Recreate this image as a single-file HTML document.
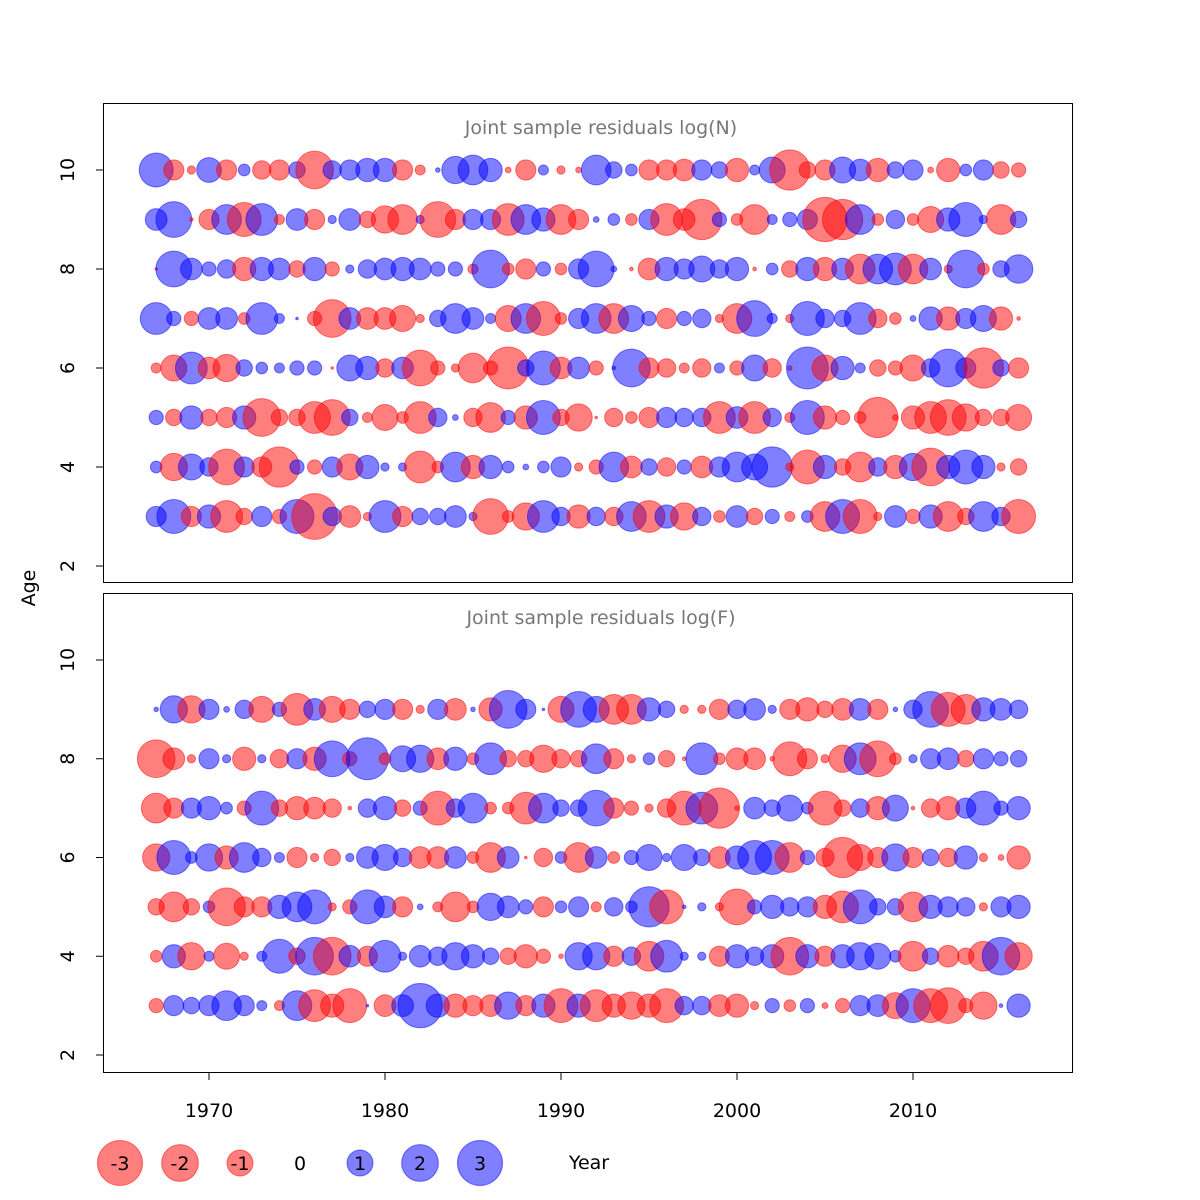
<!DOCTYPE html>
<html><head><meta charset="utf-8"><style>
html,body{margin:0;padding:0;background:#fff;}
svg{display:block;font-family:"DejaVu Sans","Liberation Sans",sans-serif;}
</style></head><body>
<svg id="chart" width="1200" height="1200" viewBox="0 0 1200 1200" xmlns="http://www.w3.org/2000/svg">
<rect x="0" y="0" width="1200" height="1200" fill="#fff"/>
<rect x="103.5" y="103.5" width="969" height="479" fill="none" stroke="#000" stroke-width="1"/>
<rect x="103.5" y="593.5" width="969" height="479" fill="none" stroke="#000" stroke-width="1"/>
<text x="601" y="134" font-size="19" fill="#777" text-anchor="middle">Joint sample residuals log(N)</text>
<text x="601" y="624" font-size="19" fill="#777" text-anchor="middle">Joint sample residuals log(F)</text>
<text transform="translate(35,588) rotate(-90)" font-size="19" text-anchor="middle">Age</text>
<text x="589" y="1169" font-size="19" text-anchor="middle">Year</text>
<g id="axes"></g>
<g id="bubbles"></g>
<g id="legend"></g>
</svg>
<script>
const years = [];
for (let yr = 1967; yr <= 2016; yr++) years.push(yr);
const agesN = [3,4,5,6,7,8,9,10];
const agesF = [3,4,5,6,7,8,9];
const yTicks = [2,4,6,8,10];
const xTicks = [1970,1980,1990,2000,2010];
const legendValues = [-3,-2,-1,0,1,2,3];

const n10 = [1.7,-0.6,-0.1,0.9,-0.6,0.2,-0.5,-0.6,0.4,-2.1, 0.5,0.6,0.8,0.8,-0.6,-0.15,0.03,1.1,1.3,0.8, -0.05,-0.6,0.15,-0.1,-0.05,1.3,0.4,0.2,-0.6,-0.6, -0.7,0.6,0.4,-0.8,0.15,1,-2.4,-0.4,-0.6,1, 0.7,-0.8,0.4,0.6,-0.05,-0.8,0.2,0.6,-0.4,-0.3];
const n9 = [0.7,1.9,-0.02,-0.6,1.3,-1.7,1.5,-0.15,0.7,-0.6, 0.1,0.7,-0.4,-1.1,-1.3,0.1,-1.9,-0.6,0.6,0.6, -1.5,1.3,0.8,-1.3,-0.6,0.05,0.2,-0.2,0.6,-1.5, -0.7,-2.4,0.3,-0.2,-1.3,0.15,0.3,0.6,-2.9,-2.4, 1.3,-0.2,0.5,-0.2,-1,0.8,1.7,0.1,-1.3,0.4];
const n8 = [-0.01,1.9,0.7,0.3,0.5,-0.8,0.8,0.7,-0.4,0.8, -0.3,0.1,0.5,0.7,0.8,0.7,0.3,0.3,-0.15,2.1, -0.2,-0.6,0.3,-0.2,0.6,1.9,0.05,-0.02,-0.7,0.8, 0.6,1,0.5,0.8,-0.02,0.2,-0.4,0.8,-0.8,0.7, -1.3,1.3,1.5,-1.3,0.7,-0.1,2.1,-0.2,0.4,1.2];
const n7 = [1.5,0.3,-0.3,0.7,0.7,-0.2,1.5,0.15,0.01,-0.3, -2.1,0.7,-0.7,-0.7,-1,-0.1,0.4,1.3,0.7,0.15, -1,1.3,-1.7,-0.2,0.6,1.3,-1.3,1,0.3,-0.6, 0.3,0.5,-0.1,-1.3,1.9,0.15,-0.1,1.7,0.5,0.4, 1.5,-0.5,-0.2,0.05,0.8,-0.8,0.6,1,-0.8,-0.02];
const n6 = [-0.15,-1,1.5,-0.7,-1.1,0.4,0.2,0.15,0.3,0.3, -0.01,1,0.8,-0.5,0.7,-1.9,-0.3,-0.1,-1.3,-0.3, -2.6,0.4,1.7,-0.7,0.7,-0.3,0.02,2.1,-0.6,-0.5, -0.15,-0.5,0.15,-0.3,1,-0.5,-0.03,2.6,-1,0.8, 0.15,-0.4,-0.3,-1,0.5,2.1,0.6,-2.4,0.4,-0.6];
const n5 = [0.3,-0.4,0.8,-0.4,-0.6,0.8,-2.1,-0.4,-0.4,-1.5, -1.9,0.4,-0.15,-1,-0.2,-1.5,0.5,0.05,-0.5,-1.3, 0.3,-0.8,1.7,-0.4,-1.1,-0.01,-0.5,-0.2,-0.6,0.6, 0.5,0.5,-1.5,0.7,-1.5,0.5,-0.15,1.7,-0.8,-0.3, -0.2,-2.4,-0.05,-0.8,-1.5,-1.9,-1.1,-0.4,-0.4,-1];
const n4 = [0.2,-1.1,1,0.5,-1.9,0.6,-0.6,-2.4,0.3,-0.3, 0.6,-1,0.8,0.1,0.1,-1.5,-0.2,1.3,-0.8,0.8, 0.2,0.05,0.2,0.6,-0.1,-0.3,1.3,-0.7,0.4,-0.5, 0.3,-0.7,0.6,1.3,1,2.4,-0.1,-1.7,0.8,-0.4, -1.3,0.5,-0.8,1.1,-2.1,0.8,1.7,0.8,-0.1,-0.4];
const n3 = [0.6,1.7,-0.6,0.8,-1.5,-0.4,0.6,-0.3,1.7,-3.1, 0.5,-0.7,-0.1,1.5,-0.6,0.4,0.4,0.7,0.1,-1.9, -0.2,-1.1,1.5,0.5,-0.8,0.5,-0.5,1.3,-1.5,0.8, -1.1,0.5,-0.2,0.7,-0.4,0.3,-0.15,0.2,-1.3,1.7, -1.7,-0.1,0.7,-0.3,0.8,-1.3,-0.4,1.3,0.5,-1.7];

const f9 = [0.03,1.1,-1.1,0.6,0.05,0.5,-1,0.3,-1.5,0.7, -1,-0.6,0.4,0.6,-0.6,-0.1,0.6,-0.7,0.03,-0.8, 2.1,0.6,0.01,-1,1.9,1,-1.3,-1.3,0.8,0.4, -0.1,-0.1,-0.6,0.5,0.7,0.1,-0.6,-0.8,-0.4,-0.7, 0.7,-0.6,0.03,0.5,1.9,-1.7,-1.3,0.8,0.7,0.5];
const f8 = [-2.1,-0.7,-0.1,0.6,0.1,-0.8,0.1,-0.5,0.6,-0.8, 1.9,-0.3,2.6,-0.2,1,1.1,-0.7,0.8,-0.2,1.5, -0.4,-0.4,-1.1,-0.5,-0.4,1.3,-0.6,-0.1,0.2,-0.4, -0.02,1.5,-0.2,-0.7,-0.7,-0.03,-1.7,-0.6,-0.1,-1.1, 1.5,-1.9,-0.2,0.1,0.6,0.7,-0.4,0.6,0.3,0.4];
const f7 = [-1.3,-0.6,0.6,0.8,0.2,-0.3,1.7,-0.4,-0.8,-0.7, -0.5,-0.02,0.5,0.8,-0.4,0.3,-1.7,0.5,1.3,-0.2, -0.2,-1.5,1.3,0.4,0.4,1.9,-0.6,-0.3,-0.1,-0.5, -1.7,1.5,-2.4,-0.03,0.7,0.4,1,0.2,-1.7,-0.4, 0.5,-0.8,1,-0.02,-0.5,-0.8,0.6,1.7,0.3,0.8];
const f6 = [-1.1,1.7,0.2,1.1,-0.8,1.3,0.5,0.15,-0.6,-0.1, -0.4,0.1,0.7,1,0.5,-0.7,-0.7,0.7,-0.2,-1.3, 0.7,-0.01,-0.5,0.2,-1.3,0.7,-0.2,0.3,1,0.1, 1,0.4,-0.7,0.8,1.7,1.7,-1.3,0.3,-0.5,-2.4, -1,-0.6,1.1,-0.6,0.4,-0.5,0.8,-0.1,-0.05,-0.8];
const f5 = [-0.4,-1.3,-0.4,0.2,-2.1,-0.6,-0.6,0.8,1.3,1.7, -0.1,-0.3,1.7,0.7,-0.6,0.05,-0.15,-1.3,-0.2,1.1, 0.7,0.3,-0.6,0.2,0.6,-0.15,0.5,0.2,2.4,-1.7, 0.02,0.1,-0.1,-1.9,0.3,0.8,0.5,0.6,-0.8,-1.5, 1.7,0.4,0.4,-1.3,0.8,0.6,0.5,-0.1,0.6,0.8];
const f4 = [-0.2,0.8,-1.1,0.15,-1,-0.1,0.15,1.7,-0.4,2.1, -2.1,0.7,-0.6,1.5,0.1,0.7,0.5,1.1,0.8,0.4, -0.4,-0.8,-0.3,-0.03,1.1,1.1,-0.6,0.5,-1.3,1.5, 0.1,0.1,-0.6,0.8,0.5,0.8,-2.1,0.8,-0.6,0.8, 1.1,1,0.2,-1.3,0.4,-0.7,-0.4,-1.3,2.1,-1.1];
const f3 = [-0.3,0.6,0.4,0.6,1.3,0.6,0.15,-0.15,1.3,-1.5, -0.8,-1.7,0.01,-0.7,0.7,2.9,0.8,-0.8,-0.6,-0.7, 1.1,-0.6,0.8,-1.7,0.8,-1.5,-0.8,-1.1,-0.8,-1.7, 0.5,0.5,-0.7,-0.8,-0.1,0.3,-0.2,0.3,-0.05,-0.3, 0.6,0.7,-1,1.7,-1.7,-1.9,-0.3,-1.1,0.02,0.8];

const seriesN = [n3,n4,n5,n6,n7,n8,n9,n10];
const seriesF = [f3,f4,f5,f6,f7,f8,f9];

const NS = 'http://www.w3.org/2000/svg';
function xScale(yr){ return 209 + (yr - 1970) * 17.6; }
function yScaleN(a){ return 170 + (10 - a) * 49.5; }
function yScaleF(a){ return 660 + (10 - a) * 49.375; }
function rScale(v){ return 13 * Math.sqrt(Math.abs(v)); }
function colorOf(v){ return v < 0 ? 'rgba(255,0,0,0.5)' : 'rgba(0,0,255,0.5)'; }
function mk(tag, parent){ const e = document.createElementNS(NS, tag); parent.appendChild(e); return e; }

const axes = document.getElementById('axes');
const bubbles = document.getElementById('bubbles');
const legend = document.getElementById('legend');

[[yScaleN,'n'],[yScaleF,'f']].forEach(([ys, p]) => {
  yTicks.forEach(t => {
    const yy = ys(t);
    const ln = mk('line', axes);
    
    
    ln.setAttribute('x1', 96); ln.setAttribute('x2', 103.5);
    ln.setAttribute('y1', yy); ln.setAttribute('y2', yy);
    ln.setAttribute('stroke', '#000');
    const tx = mk('text', axes);
    
    
    tx.setAttribute('transform', 'translate(74,' + yy + ') rotate(-90)');
    tx.setAttribute('font-size', '19');
    tx.setAttribute('text-anchor', 'middle');
    tx.textContent = t;
  });
});
xTicks.forEach(t => {
  const xx = xScale(t);
  const ln = mk('line', axes);
  
  
  ln.setAttribute('x1', xx); ln.setAttribute('x2', xx);
  ln.setAttribute('y1', 1072.5); ln.setAttribute('y2', 1080);
  ln.setAttribute('stroke', '#000');
  const tx = mk('text', axes);
  
  
  tx.setAttribute('x', xx); tx.setAttribute('y', 1117);
  tx.setAttribute('font-size', '19');
  tx.setAttribute('text-anchor', 'middle');
  tx.textContent = t;
});

function drawPanel(ages, series, ys, p){
  ages.forEach((a, i) => {
    const vals = series[i];
    years.forEach((yr, j) => {
      const v = vals[j];
      const c = mk('circle', bubbles);
      
      
      c.setAttribute('cx', xScale(yr));
      c.setAttribute('cy', ys(a));
      c.setAttribute('r', rScale(v));
      c.setAttribute('fill', colorOf(v));
      c.setAttribute('stroke', colorOf(v));
      c.setAttribute('stroke-width', '1');
    });
  });
}
drawPanel(agesN, seriesN, yScaleN, 'n');
drawPanel(agesF, seriesF, yScaleF, 'f');

legendValues.forEach((v, k) => {
  const cx = 120 + k * 60, cy = 1163;
  if (v !== 0) {
    const c = mk('circle', legend);
    
    
    c.setAttribute('cx', cx); c.setAttribute('cy', cy);
    c.setAttribute('r', rScale(v));
    c.setAttribute('fill', colorOf(v));
    c.setAttribute('stroke', colorOf(v));
  }
  const t = mk('text', legend);
  
  
  t.setAttribute('x', cx); t.setAttribute('y', cy + 7);
  t.setAttribute('font-size', '19');
  t.setAttribute('text-anchor', 'middle');
  t.textContent = v;
});
</script>
</body></html>
